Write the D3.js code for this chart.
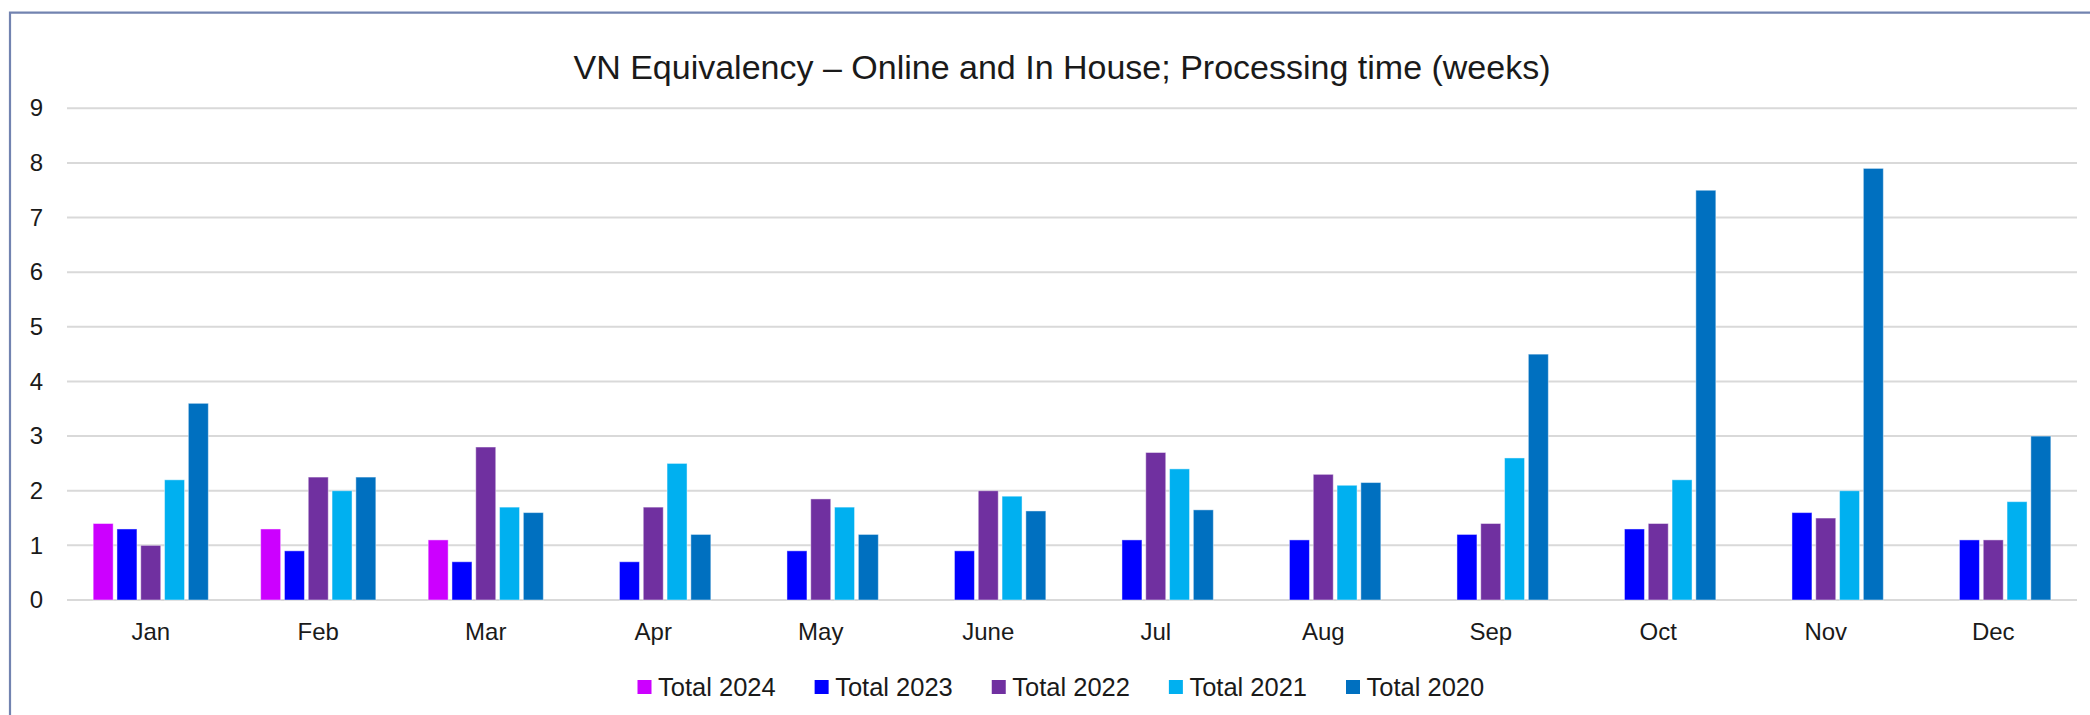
<!DOCTYPE html>
<html lang="en">
<head>
  <meta charset="UTF-8">
  <title>VN Equivalency - Processing time</title>
  <script src="https://cdnjs.cloudflare.com/ajax/libs/d3/7.8.5/d3.min.js"></script>
  <style>
    html, body { margin: 0; padding: 0; background: #fff; }
    #chart { width: 2090px; height: 715px; }
    text { font-family: "Liberation Sans", Arial, sans-serif; fill: #1a1a1a; }
    .axis path { display: none; }
    .axis line { display: none; }
  </style>
</head>
<body>
  <div id="chart"></div>

  <script>
    // chart data
    const months = ["Jan", "Feb", "Mar", "Apr", "May", "June", "Jul", "Aug", "Sep", "Oct", "Nov", "Dec"];
    const seriesNames = ["Total 2024", "Total 2023", "Total 2022", "Total 2021", "Total 2020"];
    const seriesColors = ["#CC00FF", "#0000FF", "#7030A0", "#00B0F0", "#0070C0"];

    const total2024 = [1.4, 1.3, 1.1, null, null, null, null, null, null, null, null, null];
    const total2023 = [1.3, 0.9, 0.7, 0.7, 0.9, 0.9, 1.1, 1.1, 1.2, 1.3, 1.6, 1.1];
    const total2022 = [1.0, 2.25, 2.8, 1.7, 1.85, 2.0, 2.7, 2.3, 1.4, 1.4, 1.5, 1.1];
    const total2021 = [2.2, 2.0, 1.7, 2.5, 1.7, 1.9, 2.4, 2.1, 2.6, 2.2, 2.0, 1.8];
    const total2020 = [3.6, 2.25, 1.6, 1.2, 1.2, 1.63, 1.65, 2.15, 4.5, 7.5, 7.9, 3.0];

    const yTicks = [0, 1, 2, 3, 4, 5, 6, 7, 8, 9];
    const title = "VN Equivalency \u2013 Online and In House; Processing time (weeks)";

    const seriesValues = [total2024, total2023, total2022, total2021, total2020];

    // layout
    const W = 2090, H = 715;
    const plot = {left: 67, right: 2077, top: 108.3, bottom: 600};

    const svg = d3.select("#chart")
      .append("svg")
      .attr("width", W)
      .attr("height", H);

    svg.append("rect").attr("width", W).attr("height", H).attr("fill", "#fff");

    // frame (left + top edges visible in the crop)
    svg.append("path")
      .attr("d", `M10,${H} L10,12.7 L${W},12.7`)
      .attr("fill", "none")
      .attr("stroke", "#7283B0")
      .attr("stroke-width", 2.2);

    // scales
    const x = d3.scaleBand()
      .domain(months)
      .range([plot.left, plot.right])
      .paddingInner(0.267)
      .paddingOuter(0.1335);

    const xSub = d3.scaleBand()
      .domain(seriesNames)
      .range([0, x.bandwidth()])
      .padding(0.16);

    const y = d3.scaleLinear()
      .domain([0, 9])
      .range([plot.bottom, plot.top]);

    // gridlines
    svg.append("g")
      .selectAll("line")
      .data(yTicks)
      .enter().append("line")
      .attr("x1", plot.left)
      .attr("x2", plot.right)
      .attr("y1", d => y(d))
      .attr("y2", d => y(d))
      .attr("stroke", "#D9D9D9")
      .attr("stroke-width", 2);

    // y axis
    svg.append("g")
      .attr("class", "axis")
      .attr("transform", `translate(${plot.left},0)`)
      .call(d3.axisLeft(y).tickValues(yTicks).tickSize(0).tickPadding(24))
      .selectAll("text")
      .style("font-size", "24px");

    // x axis
    svg.append("g")
      .attr("class", "axis")
      .attr("transform", `translate(0,${plot.bottom})`)
      .call(d3.axisBottom(x).tickSize(0).tickPadding(23))
      .selectAll("text")
      .style("font-size", "24px");

    // bars
    const rows = [];
    months.forEach((m, i) => {
      seriesNames.forEach((s, j) => {
        const v = seriesValues[j][i];
        if (v !== null && v !== undefined) rows.push({month: m, series: s, value: v, color: seriesColors[j]});
      });
    });

    svg.append("g")
      .selectAll("rect")
      .data(rows)
      .enter().append("rect")
      .attr("x", d => x(d.month) + xSub(d.series))
      .attr("y", d => y(d.value))
      .attr("width", xSub.bandwidth())
      .attr("height", d => y(0) - y(d.value))
      .attr("fill", d => d.color)
      .attr("stroke", "#fff")
      .attr("stroke-opacity", 0.45)
      .attr("stroke-width", 1);

    // title
    svg.append("text")
      .attr("x", 1062)
      .attr("y", 79)
      .attr("text-anchor", "middle")
      .style("font-size", "34px")
      .text(title);

    // legend
    const legendX = d3.scalePoint()
      .domain(seriesNames)
      .range([637.5, 1346]);

    const legend = svg.append("g")
      .selectAll("g")
      .data(seriesNames)
      .enter().append("g")
      .attr("transform", d => `translate(${legendX(d)},680)`);

    legend.append("rect")
      .attr("width", 14)
      .attr("height", 14)
      .attr("fill", (d, i) => seriesColors[i]);

    legend.append("text")
      .attr("x", 20.5)
      .attr("y", 16)
      .style("font-size", "25.5px")
      .text(d => d);
  </script>
</body>
</html>
